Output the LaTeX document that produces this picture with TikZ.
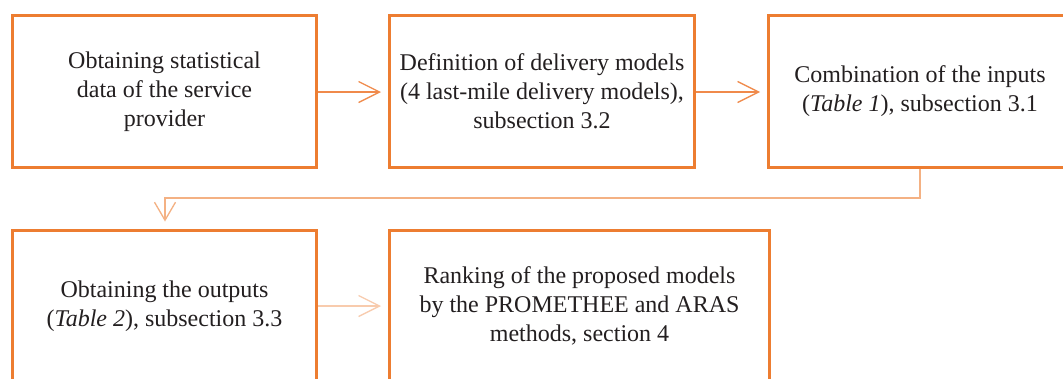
\documentclass[tikz,border=0pt]{standalone}
\usepackage{fontspec}
\setmainfont{Liberation Serif}
\usetikzlibrary{arrows.meta}
\definecolor{boxorange}{HTML}{ED7D31}
\definecolor{lineorange}{HTML}{F08A4B}
\definecolor{softorange}{HTML}{F4B183}
\definecolor{paleorange}{HTML}{F8CBAD}
\definecolor{textgray}{HTML}{231F20}
\tikzset{
  stagebox/.style={draw=boxorange, line width=3pt, rectangle, align=center,
    minimum height=152pt, inner sep=0pt, text=textgray,
    font=\fontsize{24}{29}\selectfont},
  flow/.style={line width=1.3pt, shorten >=7pt,
    -{Straight Barb[length=21pt,width=21pt,line width=1.3pt]}},
}
\begin{document}
\begin{tikzpicture}[x=1pt,y=-1pt]
\clip (0,0) rectangle (1063,378);
\fill[white] (0,0) rectangle (1063,378);

\node[stagebox, minimum width=304pt] (obtain) at (164.5,91.5)
  {Obtaining statistical\\data of the service\\provider};
\node[stagebox, minimum width=305pt] (define) at (542,91.5)
  {Definition of delivery models\\(4 last-mile delivery models),\\subsection 3.2};
\node[stagebox, minimum width=303pt] (combine) at (920,91.5)
  {Combination of the inputs\\(\textit{Table 1}), subsection 3.1};
\node[stagebox, minimum width=304pt] (outputs) at (164.5,306)
  {Obtaining the outputs\\(\textit{Table 2}), subsection 3.3};
\node[stagebox, minimum width=380pt] (rank) at (579.5,306)
  {Ranking of the proposed models\\by the PROMETHEE and ARAS\\methods, section 4};

\coordinate (turnR) at (920,198);
\coordinate (turnL) at (165,198);

\draw[flow, draw=lineorange] (obtain.east |- 0,92) -- (define.west |- 0,92);
\draw[flow, draw=lineorange] (define.east |- 0,92) -- (combine.west |- 0,92);
\draw[flow, draw=softorange,
  -{Straight Barb[length=18pt,width=21pt,line width=1.3pt]}]
  (combine.south) -- (turnR) -- (turnL) -- (turnL |- outputs.north);
\draw[flow, draw=paleorange] (outputs.east |- 0,306) -- (rank.west |- 0,306);
\end{tikzpicture}
\end{document}
